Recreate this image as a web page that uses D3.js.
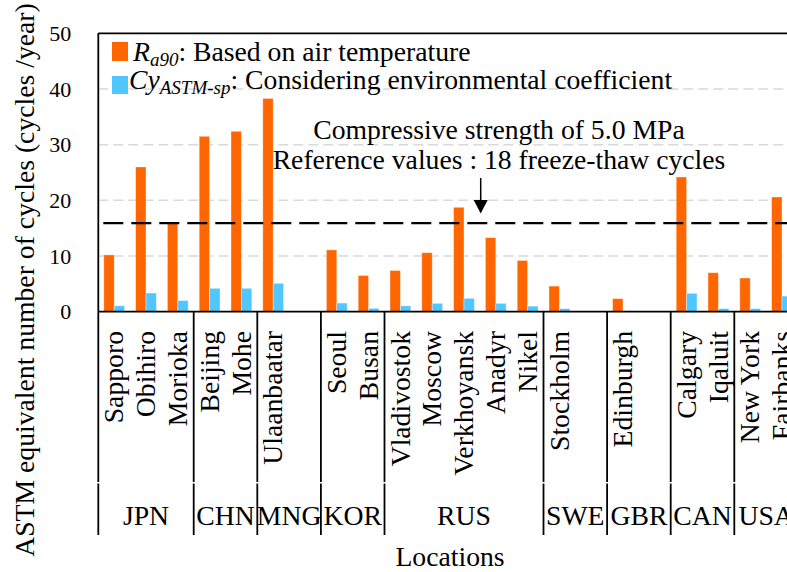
<!DOCTYPE html>
<html>
<head>
<meta charset="utf-8">
<script src="https://cdn.jsdelivr.net/npm/d3@7"></script>
<style>
  body { margin: 0; background: #fff; }
</style>
</head>
<body>
<svg id="chart"></svg>
<script>
// locations (empty strings are the blank slots of the category axis)
var cities = ["Sapporo","Obihiro","Morioka","Beijing","Mohe","Ulaanbaatar","",
              "Seoul","Busan","Vladivostok","Moscow","Verkhoyansk","Anadyr","Nikel",
              "Stockholm","","Edinburgh","","Calgary","Iqaluit","New York","Fairbanks"];
// R_a90 : based on air temperature
var ra90 = [10.2,26.0,16.1,31.5,32.4,38.3,null,11.1,6.5,7.4,10.6,18.75,13.3,9.2,
            4.6,null,2.35,null,24.2,7.0,6.05,20.6];
// Cy_ASTM-sp : considering environmental coefficient
var cyAstm = [1.07,3.35,2.0,4.2,4.2,5.1,null,1.55,0.6,1.05,1.5,2.4,1.5,1.0,
              0.55,null,0.15,null,3.3,0.55,0.55,2.8];
var countries = ["JPN","CHN","MNG","KOR","RUS","SWE","GBR","CAN","USA"];
var countrySlots = [3,2,2,2,5,2,2,2,2];
var yTicks = [0,10,20,30,40,50];
var refValue = 15.9;

var FONT = "'Liberation Serif'";
var FS = "27.7px";
var screen = {width:787, height:572};
var plot = {left:98.3, top:33.3, bottom:311.7, right:797.9};

var svg = d3.select("#chart")
    .attr("width",screen.width)
    .attr("height",screen.height)
    .style("font-family",FONT);

var xScale = d3.scaleBand()
    .domain(d3.range(cities.length))
    .range([plot.left,plot.right]);

var subScale = d3.scaleBand()
    .domain(["ra","cy"])
    .range([0,xScale.bandwidth()])
    .paddingOuter(0.53);

var yScale = d3.scaleLinear()
    .domain([0,50])
    .range([plot.bottom,plot.top]);

//gridlines
svg.append("g")
    .selectAll("line")
    .data(yTicks.filter(function(d){return d>0 && d<50;}))
    .enter()
    .append("line")
    .attr("x1",plot.left)
    .attr("x2",plot.right)
    .attr("y1",function(d){return yScale(d);})
    .attr("y2",function(d){return yScale(d);})
    .attr("stroke","#d9d9d9")
    .attr("stroke-width",1.5)
    .attr("stroke-dasharray","10,5");

//y tick labels
var yAxis = d3.axisLeft(yScale).tickValues(yTicks).tickSize(0).tickPadding(0);
var ya = svg.append("g")
    .attr("transform","translate("+(plot.left-27)+",0)")
    .call(yAxis);
ya.attr("font-family",null).attr("font-size",null);
ya.select(".domain").remove();
ya.selectAll("text")
    .style("font-family",FONT)
    .style("font-size","22px")
    .attr("fill","#000");

//bars
var bars = svg.append("g");
var drawSeries = function(values,key,color)
{
    bars.selectAll("rect."+key)
        .data(values.map(function(v,i){return {i:i,v:v};}).filter(function(d){return d.v!=null;}))
        .enter()
        .append("rect")
        .attr("class",key)
        .attr("x",function(d){return xScale(d.i)+subScale(key);})
        .attr("width",subScale.bandwidth())
        .attr("y",function(d){return yScale(d.v);})
        .attr("height",function(d){return yScale(0)-yScale(d.v);})
        .attr("fill",color)
        .attr("stroke","#fff")
        .attr("stroke-opacity",0.45)
        .attr("stroke-width",0.8);
}
drawSeries(ra90,"ra","#ff6600");
drawSeries(cyAstm,"cy","#52c6ff");

//reference line
svg.append("line")
    .attr("x1",plot.left+5)
    .attr("x2",plot.right)
    .attr("y1",yScale(refValue))
    .attr("y2",yScale(refValue))
    .attr("stroke","#000")
    .attr("stroke-width",2.2)
    .attr("stroke-dasharray","20,8");

//frame: top + left + bottom axis
svg.append("line")
    .attr("x1",plot.left).attr("x2",plot.right)
    .attr("y1",plot.top).attr("y2",plot.top)
    .attr("stroke","#000").attr("stroke-width",1.8);
svg.append("line")
    .attr("x1",plot.left).attr("x2",plot.right)
    .attr("y1",plot.bottom).attr("y2",plot.bottom)
    .attr("stroke","#000").attr("stroke-width",1.8);
svg.append("line")
    .attr("x1",plot.left).attr("x2",plot.left)
    .attr("y1",plot.top).attr("y2",plot.bottom)
    .attr("stroke","#000").attr("stroke-width",1.8);

//group separators down through the category axis (small break between the two levels)
var bounds = [0];
countrySlots.forEach(function(n){bounds.push(bounds[bounds.length-1]+n);});
var boundX = function(b){return b<cities.length ? xScale(b) : plot.right;};
[[plot.bottom,482],[483.5,535]].forEach(function(seg)
{
    svg.append("g")
        .selectAll("line")
        .data(bounds)
        .enter()
        .append("line")
        .attr("x1",boundX).attr("x2",boundX)
        .attr("y1",seg[0]).attr("y2",seg[1])
        .attr("stroke","#000").attr("stroke-width",1.8);
});

//city labels
svg.append("g")
    .selectAll("text")
    .data(cities.map(function(c,i){return {c:c,i:i};}).filter(function(d){return d.c!="";}))
    .enter()
    .append("text")
    .attr("transform",function(d){
        return "translate("+(xScale(d.i)+xScale.bandwidth()/2)+",331) rotate(-90)";})
    .attr("dy","0.33em")
    .attr("text-anchor","end")
    .style("font-family",FONT)
    .style("font-size",FS)
    .text(function(d){return d.c;});

//country labels
svg.append("g")
    .selectAll("text")
    .data(countries)
    .enter()
    .append("text")
    .attr("x",function(d,i){return (boundX(bounds[i])+boundX(bounds[i+1]))/2;})
    .attr("y",525)
    .attr("text-anchor","middle")
    .style("font-family",FONT)
    .style("font-size",FS)
    .text(function(d){return d;});

//axis titles
svg.append("text")
    .attr("x",450)
    .attr("y",566)
    .attr("text-anchor","middle")
    .style("font-family",FONT)
    .style("font-size",FS)
    .text("Locations");

svg.append("text")
    .attr("transform","translate(34,280) rotate(-90)")
    .attr("text-anchor","middle")
    .style("font-family",FONT)
    .style("font-size",FS)
    .text("ASTM equivalent number of cycles (cycles /year)");

//legend
var legend = svg.append("g");
legend.append("rect")
    .attr("x",112).attr("y",42).attr("width",16).attr("height",19)
    .attr("fill","#ff6600");
legend.append("rect")
    .attr("x",112).attr("y",76).attr("width",16).attr("height",18)
    .attr("fill","#52c6ff");

var l1 = legend.append("text").attr("x",133).attr("y",61)
    .style("font-family",FONT).style("font-size",FS);
l1.append("tspan").style("font-style","italic").text("R");
l1.append("tspan").style("font-style","italic").style("font-size","19px").attr("dy",5).text("a90");
l1.append("tspan").attr("dy",-5).text(": Based on air temperature");

var l2 = legend.append("text").attr("x",129).attr("y",89)
    .style("font-family",FONT).style("font-size",FS);
l2.append("tspan").style("font-style","italic").text("Cy");
l2.append("tspan").style("font-style","italic").style("font-size","19px").attr("dy",5).text("ASTM-sp");
l2.append("tspan").attr("dy",-5).text(": Considering environmental coefficient");

//annotation
svg.append("text")
    .attr("x",499).attr("y",139)
    .attr("text-anchor","middle")
    .style("font-family",FONT)
    .style("font-size",FS)
    .text("Compressive strength of 5.0 MPa");
svg.append("text")
    .attr("x",499).attr("y",169)
    .attr("text-anchor","middle")
    .style("font-family",FONT)
    .style("font-size",FS)
    .text("Reference values : 18 freeze-thaw cycles");

//arrow
svg.append("line")
    .attr("x1",480.7).attr("x2",480.7)
    .attr("y1",178).attr("y2",203)
    .attr("stroke","#000").attr("stroke-width",1.5);
svg.append("path")
    .attr("d",d3.line()([[473.7,200],[487.7,200],[480.7,213.5]]))
    .attr("fill","#000");
</script>
</body>
</html>
